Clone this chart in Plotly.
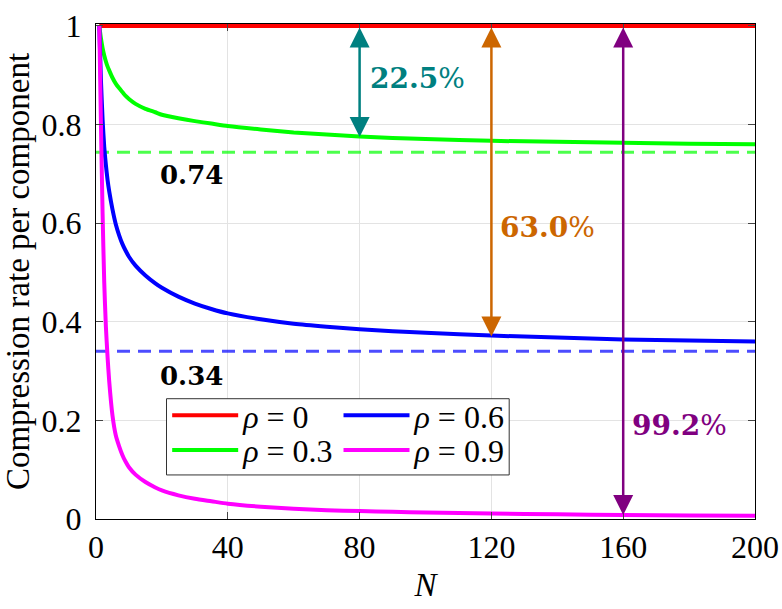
import plotly.graph_objects as go

# ---------------- data ----------------
N = [1, 1.5, 2, 2.5, 3, 3.5, 4, 5, 6, 7, 8, 9, 10, 12, 15, 18, 20, 25, 30, 35, 40,
     50, 60, 70, 80, 90, 100, 120, 140, 160, 180, 200]
rate_rho0 = [1.0, 1.0, 1.0, 1.0, 1.0, 1.0, 1.0, 1.0, 1.0, 1.0, 1.0,
             1.0, 1.0, 1.0, 1.0, 1.0, 1.0, 1.0, 1.0, 1.0, 1.0, 1.0,
             1.0, 1.0, 1.0, 1.0, 1.0, 1.0, 1.0, 1.0, 1.0, 1.0]
rate_rho03 = [1.0, 0.975, 0.955, 0.940, 0.928, 0.918, 0.910, 0.895, 0.883, 0.874,
              0.866, 0.858, 0.852, 0.842, 0.832, 0.825, 0.820, 0.813, 0.807, 0.802,
              0.797, 0.790, 0.784, 0.780, 0.776, 0.773, 0.771, 0.767, 0.765, 0.763,
              0.761, 0.760]
rate_rho06 = [1.0, 0.89, 0.81, 0.755, 0.718, 0.688, 0.665, 0.628, 0.598, 0.576,
              0.558, 0.544, 0.532, 0.514, 0.494, 0.478, 0.469, 0.451, 0.437, 0.426,
              0.417, 0.405, 0.396, 0.390, 0.385, 0.381, 0.378, 0.372, 0.368, 0.364,
              0.362, 0.360]
rate_rho09 = [1.0, 0.80, 0.62, 0.48, 0.39, 0.33, 0.28, 0.21, 0.17, 0.148,
              0.13, 0.116, 0.105, 0.09, 0.075, 0.064, 0.058, 0.048, 0.041, 0.036,
              0.031, 0.025, 0.021, 0.018, 0.016, 0.0145, 0.013, 0.011, 0.0095, 0.008,
              0.007, 0.0065]
series_names = ["<i>ρ</i> = 0", "<i>ρ</i> = 0.3", "<i>ρ</i> = 0.6", "<i>ρ</i> = 0.9"]
series_colors = ["#ff0000", "#00ff00", "#0000ff", "#ff00ff"]

limit_values = [0.744, 0.340]
limit_labels = ["0.74", "0.34"]
limit_colors = ["rgba(0,255,0,0.7)", "rgba(0,0,255,0.7)"]
x_range = [0, 200]
y_range = [0, 1.004]

arrow_N = [80, 120, 160]
arrow_low = [0.775, 0.370, 0.008]
arrow_labels = ["22.5", "63.0", "99.2"]
arrow_colors = ["#008080", "#cc6600", "#800080"]

x_ticks = [0, 40, 80, 120, 160, 200]
y_ticks = [0, 0.2, 0.4, 0.6, 0.8, 1]
y_ticktext = ["0", "0.2", "0.4", "0.6", "0.8", "1"]

SERIF = "Liberation Serif, Times New Roman, Times, serif"
MATHB = "DejaVu Serif, serif"

fig = go.Figure()

# dashed asymptotes
for v, c in zip(limit_values, limit_colors):
    fig.add_trace(go.Scatter(x=x_range, y=[v, v], mode="lines",
                             line=dict(color=c, width=3, dash="13px,8px"),
                             showlegend=False, hoverinfo="skip"))

all_rates = [rate_rho0, rate_rho03, rate_rho06, rate_rho09]
legend_ids = ["legend", "legend2", "legend3", "legend4"]
for rates, name, col, lg in zip(all_rates, series_names, series_colors, legend_ids):
    fig.add_trace(go.Scatter(x=N, y=rates, mode="lines", name=name,
                             line=dict(color=col, width=4, shape="spline",
                                       smoothing=0.6),
                             cliponaxis=False, legend=lg))

annotations = []
for xn, lo, lab, col in zip(arrow_N, arrow_low, arrow_labels, arrow_colors):
    annotations.append(dict(x=xn, y=lo, ax=xn, ay=1.0, xref="x", yref="y",
                            axref="x", ayref="y", text="", showarrow=True,
                            arrowhead=2, startarrowhead=2, arrowside="end+start",
                            arrowsize=1.6, startarrowsize=1.6, arrowwidth=2.5,
                            arrowcolor=col, standoff=0, startstandoff=0))
# percentage labels
label_pos = [(82.5, 0.893), (122.0, 0.592), (162.2, 0.189)]
for (px, py), lab, col in zip(label_pos, arrow_labels, arrow_colors):
    annotations.append(dict(x=px, y=py, xref="x", yref="y", xanchor="left",
                            yanchor="middle", showarrow=False,
                            text="<b>" + lab + "</b>%",
                            font=dict(family=MATHB, size=28, color=col)))
# asymptote labels
for v, lab, yy in zip(limit_values, limit_labels, [0.698, 0.291]):
    annotations.append(dict(x=29.0, y=yy, xref="x", yref="y", xanchor="center",
                            yanchor="middle", showarrow=False,
                            text="<b>" + lab + "</b>",
                            font=dict(family=MATHB, size=26, color="black")))

leg_common = dict(xanchor="left", yanchor="middle", bgcolor="rgba(0,0,0,0)",
                  borderwidth=0, itemwidth=66, font=dict(family=SERIF, size=32))
leg_pos = {"legend": (0.108, 0.209), "legend2": (0.108, 0.139),
           "legend3": (0.368, 0.209), "legend4": (0.368, 0.139)}
legend_layout = {k: dict(x=v[0], y=v[1], **leg_common) for k, v in leg_pos.items()}

fig.update_layout(
    width=782, height=609,
    margin=dict(l=96, r=27, t=24, b=90, autoexpand=False),
    paper_bgcolor="white", plot_bgcolor="white",
    font=dict(family=SERIF, size=32, color="black"),
    annotations=annotations,
    shapes=[dict(type="rect", xref="paper", yref="paper",
                 x0=0.107, x1=0.627, y0=0.089, y1=0.243,
                 line=dict(color="#333333", width=1), fillcolor="white",
                 layer="above")],
    xaxis=dict(range=x_range, tickvals=x_ticks, ticks="inside", ticklen=7,
               showline=True, linecolor="black", linewidth=1, mirror="ticks",
               showgrid=True, gridcolor="#e3e3e3", gridwidth=1, zeroline=False,
               automargin=False,
               tickfont=dict(family=SERIF, size=32),
               title=dict(text="<i>N</i>", font=dict(family=SERIF, size=33),
                          standoff=8)),
    yaxis=dict(range=y_range, tickvals=y_ticks, ticktext=y_ticktext,
               ticks="inside", ticklen=7, showline=True, linecolor="black",
               linewidth=1, mirror="ticks", showgrid=True, gridcolor="#e3e3e3",
               gridwidth=1, zeroline=False, ticklabelstandoff=7, automargin=False,
               tickfont=dict(family=SERIF, size=32),
               title=dict(text="Compression rate per component",
                          font=dict(family=SERIF, size=33), standoff=5)),
    **legend_layout,
)

fig.write_html("out.html")
